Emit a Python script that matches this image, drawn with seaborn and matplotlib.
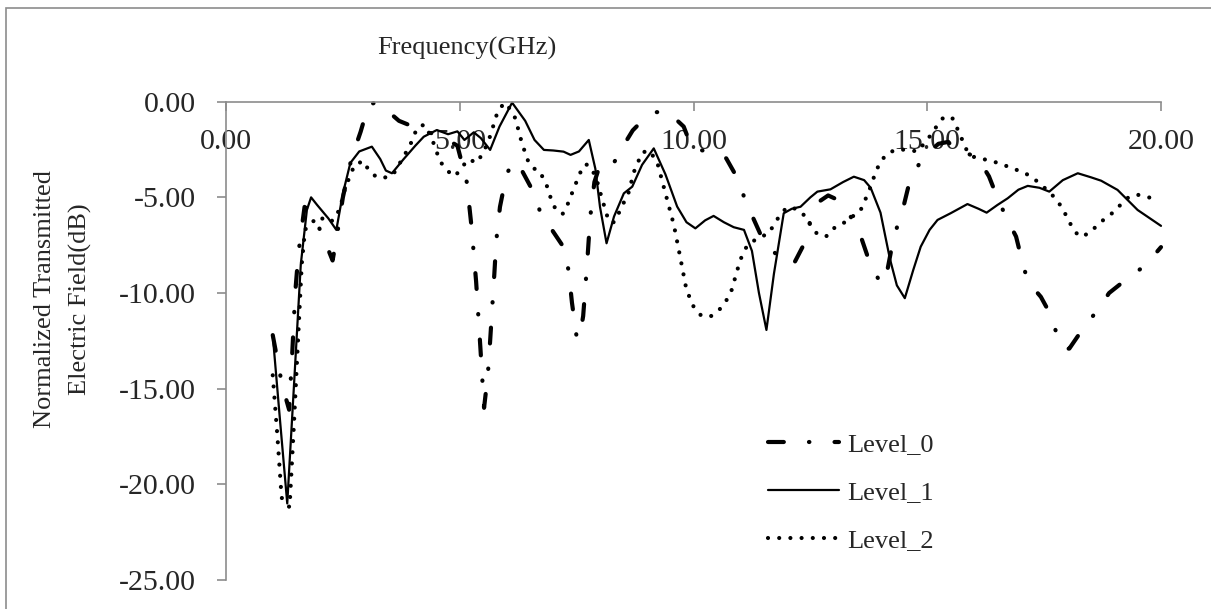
import numpy as np
import pandas as pd
import matplotlib
matplotlib.use("Agg")
import matplotlib.pyplot as plt
import seaborn as sns
from matplotlib.patches import Rectangle

# Frequency (GHz) / normalized transmitted field (dB)
freq_0 = [1.0, 1.2, 1.35, 1.42, 1.48, 1.55, 1.68, 1.85, 2.1, 2.28, 2.38, 2.5, 2.68, 2.88,
          3.05, 3.2, 3.37, 3.7, 4.2, 4.6, 4.95, 5.15, 5.25, 5.35, 5.44, 5.52, 5.6, 5.65,
          5.74, 5.78, 5.86, 6.0, 6.15, 6.33, 6.55, 6.72, 7.0, 7.22, 7.33, 7.4, 7.5, 7.56,
          7.64, 7.69, 7.74, 7.79, 7.88, 8.0, 8.26, 8.5, 8.7, 8.99, 9.2, 9.44, 9.79, 9.97,
          10.3, 10.5, 10.7, 10.94, 11.1, 11.28, 11.5, 11.82, 12.0, 12.14, 12.38, 12.5, 12.7,
          12.88, 13.06, 13.36, 13.58, 13.74, 13.86, 14.0, 14.1, 14.25, 14.37, 14.5, 14.62,
          14.86, 15.05, 15.24, 15.45, 15.65, 15.9, 16.07, 16.32, 16.49, 16.68, 16.9, 17.02,
          17.15, 17.43, 17.64, 17.79, 17.95, 18.04, 18.32, 18.64, 18.89, 19.25, 19.64,
          19.93, 20.0]
level_0 = [-12.2, -14.8, -16.1, -13.0, -10.0, -7.9, -5.5, -5.8, -7.2, -8.3, -6.9, -5.0, -3.0,
           -1.57, -0.15, -0.05, -0.3, -1.0, -1.5, -1.8, -2.3, -4.2, -6.5, -9.4, -12.8, -16.0,
           -14.3, -12.5, -9.0, -7.3, -5.5, -3.8, -3.1, -3.6, -4.6, -5.75, -6.8, -7.6, -8.85,
           -10.5, -12.3, -12.4, -11.2, -9.6, -7.9, -6.06, -4.2, -3.3, -3.36, -2.3, -1.5,
           -0.78, -0.55, -0.5, -1.3, -2.44, -2.6, -2.7, -2.96, -4.0, -5.1, -6.1, -7.3, -8.1,
           -8.4, -8.5, -7.37, -6.2, -5.2, -4.9, -5.1, -6.0, -7.05, -8.2, -8.8, -9.5, -9.4,
           -7.5, -6.4, -5.4, -4.2, -3.1, -2.6, -2.2, -2.1, -2.7, -2.75, -2.9, -3.9, -4.96,
           -6.0, -7.05, -8.24, -9.4, -10.2, -11.14, -12.3, -12.95, -12.9, -11.9, -10.9,
           -10.0, -9.3, -8.6, -7.8, -7.6]

freq_1 = [1.0, 1.15, 1.31, 1.45, 1.6, 1.73, 1.82, 1.95, 2.19, 2.36, 2.5, 2.66, 2.85, 3.12,
          3.3, 3.42, 3.55, 3.8, 4.05, 4.23, 4.51, 4.75, 4.95, 5.1, 5.3, 5.45, 5.65, 5.85,
          6.12, 6.4, 6.6, 6.8, 7.0, 7.22, 7.37, 7.55, 7.76, 7.9, 8.0, 8.14, 8.3, 8.51, 8.69,
          8.9, 9.15, 9.4, 9.65, 9.85, 10.04, 10.25, 10.43, 10.65, 10.86, 11.08, 11.25, 11.4,
          11.56, 11.72, 11.93, 12.1, 12.29, 12.5, 12.65, 12.93, 13.2, 13.43, 13.65, 13.79,
          14.0, 14.2, 14.35, 14.52, 14.7, 14.86, 15.05, 15.22, 15.5, 15.86, 16.1, 16.27,
          16.5, 16.72, 16.95, 17.15, 17.4, 17.61, 17.9, 18.22, 18.5, 18.72, 19.07, 19.5, 20.0]
level_1 = [-12.2, -16.5, -21.0, -15.0, -8.5, -5.66, -5.0, -5.4, -6.1, -6.7, -4.8, -3.2, -2.6,
           -2.35, -3.0, -3.6, -3.74, -3.0, -2.3, -1.83, -1.48, -1.7, -1.55, -2.0, -1.6, -1.9,
           -2.52, -1.3, -0.05, -1.0, -2.0, -2.52, -2.55, -2.61, -2.78, -2.6, -2.0, -3.5,
           -5.5, -7.4, -6.0, -4.79, -4.44, -3.3, -2.44, -3.8, -5.48, -6.3, -6.62, -6.2,
           -5.97, -6.3, -6.56, -6.7, -7.8, -10.0, -11.93, -9.0, -5.83, -5.6, -5.49, -5.0,
           -4.7, -4.58, -4.2, -3.92, -4.1, -4.5, -5.8, -8.2, -9.6, -10.27, -8.8, -7.58,
           -6.7, -6.18, -5.83, -5.35, -5.6, -5.8, -5.4, -5.05, -4.6, -4.4, -4.5, -4.7, -4.1,
           -3.74, -3.95, -4.13, -4.61, -5.66, -6.49]

freq_2 = [1.0, 1.1, 1.19, 1.36, 1.45, 1.55, 1.62, 1.69, 1.8, 1.9, 2.01, 2.15, 2.3, 2.44,
          2.55, 2.65, 2.75, 2.94, 3.05, 3.2, 3.35, 3.57, 3.8, 3.94, 4.05, 4.12, 4.25, 4.4,
          4.58, 4.76, 4.9, 5.05, 5.2, 5.35, 5.5, 5.65, 5.8, 5.95, 6.05, 6.19, 6.3, 6.44,
          6.57, 6.7, 6.85, 6.96, 7.05, 7.2, 7.31, 7.4, 7.57, 7.69, 7.8, 7.92, 8.04, 8.19,
          8.3, 8.4, 8.62, 8.72, 8.9, 9.05, 9.22, 9.4, 9.58, 9.72, 9.85, 10.0, 10.17, 10.38,
          10.56, 10.7, 10.81, 11.0, 11.15, 11.4, 11.6, 11.85, 12.0, 12.2, 12.4, 12.5, 12.66,
          12.85, 13.02, 13.2, 13.4, 13.56, 13.75, 13.9, 14.0, 14.15, 14.35, 14.58, 14.79,
          15.0, 15.22, 15.36, 15.54, 15.7, 15.82, 15.97, 16.2, 16.42, 16.64, 16.86, 17.07,
          17.27, 17.44, 17.64, 17.77, 17.89, 18.0, 18.11, 18.25, 18.44, 18.61, 18.79, 18.97,
          19.13, 19.32, 19.51, 19.74, 19.97]
level_2 = [-14.3, -17.5, -20.7, -21.2, -17.0, -12.0, -8.5, -6.7, -6.35, -6.2, -6.0, -6.3,
           -6.2, -5.57, -4.5, -3.9, -3.3, -3.1, -3.57, -3.9, -4.0, -3.83, -2.87, -2.26, -1.6,
           -1.3, -1.2, -1.9, -3.13, -3.66, -3.9, -3.4, -3.0, -3.2, -2.7, -1.8, -0.6, -0.05,
           -0.3, -0.87, -1.9, -3.0, -3.48, -3.6, -4.3, -5.14, -5.62, -5.87, -5.35, -4.79,
           -3.74, -3.26, -3.4, -4.0, -5.05, -6.27, -6.3, -5.83, -4.7, -3.7, -2.66, -2.55,
           -3.13, -4.79, -6.44, -8.18, -9.84, -10.7, -11.2, -11.2, -10.85, -10.4, -9.89,
           -8.27, -7.5, -7.09, -6.91, -5.92, -5.52, -5.6, -6.0, -6.44, -6.96, -7.02, -6.58,
           -6.36, -6.0, -5.75, -4.7, -3.66, -3.13, -2.7, -2.49, -2.52, -2.6, -2.0, -1.22,
           -0.78, -0.87, -1.7, -2.44, -2.87, -3.0, -3.13, -3.31, -3.52, -3.7, -4.0, -4.35,
           -4.79, -5.14, -5.57, -6.09, -6.61, -7.05, -6.91, -6.53, -6.13, -5.8, -5.4, -4.96,
           -4.87, -5.0, -5.19]

x_ticks = [0, 5, 10, 15, 20]
y_ticks = [0, -5, -10, -15, -20, -25]

sns.set_style("white")
plt.rcParams["font.family"] = ["Liberation Serif", "DejaVu Serif"]
plt.rcParams["lines.scale_dashes"] = False

fig = plt.figure(figsize=(12.11, 6.09), dpi=100)
ax = fig.add_axes([226 / 1211, 1 - 580 / 609, 935 / 1211, 478.3 / 609])

gray = "#8c8c8c"

sns.lineplot(x=freq_0, y=level_0, ax=ax, color="black", lw=3.0, sort=False,
             estimator=None, label="Level_0", clip_on=False,
             dashes=False, linestyle=(0, (11.4, 18.1, 0.3, 18.1)),
             dash_capstyle="round")
sns.lineplot(x=freq_1, y=level_1, ax=ax, color="black", lw=1.6, sort=False,
             estimator=None, label="Level_1", clip_on=False)
sns.lineplot(x=freq_2, y=level_2, ax=ax, color="black", lw=3.0, sort=False,
             estimator=None, label="Level_2", clip_on=False,
             linestyle=(0, (0.01, 8.05)), dash_capstyle="round")

ax.set_xlim(0, 20)
ax.set_ylim(-25, 0)
ax.set_xticks(x_ticks)
ax.set_xticklabels([f"{v:.2f}" for v in x_ticks])
ax.set_yticks(y_ticks)
ax.set_yticklabels([f"{v:.2f}" for v in y_ticks])

for s in ["top", "right"]:
    ax.spines[s].set_visible(False)
ax.spines["bottom"].set_position(("data", 0))
ax.spines["bottom"].set_color(gray)
ax.spines["left"].set_color(gray)
ax.spines["bottom"].set_linewidth(1.2)
ax.spines["left"].set_linewidth(1.2)
ax.tick_params(axis="x", direction="out", length=6.5, width=1.2, color=gray,
               labelsize=21.5, pad=13, bottom=True)
ax.tick_params(axis="y", direction="out", length=6.5, width=1.2, color=gray,
               labelsize=21.5, pad=15, left=True)
ax.set_xlabel("")
ax.set_ylabel("")

fig.text(467 / 1211, 1 - 48 / 609, "Frequency(GHz)", fontsize=19,
         ha="center", va="center")
fig.text(63 / 1211, 1 - 299 / 609, "Normalized Transmitted\nElectric Field(dB)",
         fontsize=19, rotation=90, ha="center", va="center",
         multialignment="center", linespacing=1.7)

ax.legend(loc="upper left", bbox_to_anchor=(768 / 1211, 1 - 433 / 609),
          bbox_transform=fig.transFigure, frameon=False, fontsize=19,
          handlelength=2.7, handletextpad=0.3, labelspacing=0.93,
          borderpad=0, borderaxespad=0)

fig.add_artist(Rectangle((6 / 1211, -0.1), 1.2, 1.1 - 8 / 609,
                         transform=fig.transFigure, fill=False,
                         edgecolor=gray, lw=1.2))

fig.savefig("out.png", dpi=100)
